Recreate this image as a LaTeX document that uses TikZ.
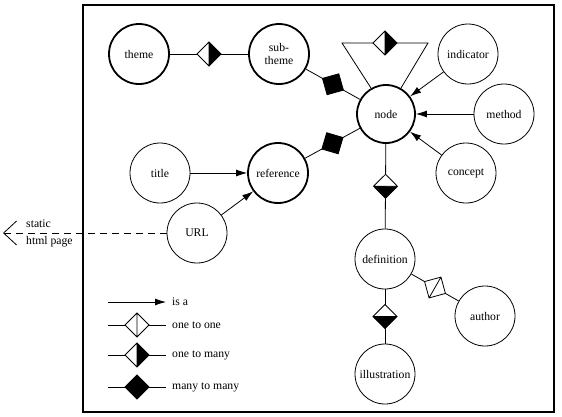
\documentclass[tikz,border=0pt]{standalone}
\usepackage{fontspec}
\setmainfont{Liberation Serif}
\usetikzlibrary{arrows.meta}

% relation diamonds, drawn along the connector
\tikzset{
  onemany/.pic={
    \fill[white] (-12,0) -- (0,12) -- (0,-12) -- cycle;
    \fill[black] (0,12) -- (12,0) -- (0,-12) -- cycle;
    \draw[line width=0.8pt] (-12,0) -- (0,12) -- (12,0) -- (0,-12) -- cycle (0,12) -- (0,-12);
  },
  oneone/.pic={
    \filldraw[fill=white,line width=0.8pt] (-12,0) -- (0,12) -- (12,0) -- (0,-12) -- cycle (0,12) -- (0,-12);
  },
  manymany/.pic={
    \filldraw[line width=0.8pt] (-12,0) -- (0,12) -- (12,0) -- (0,-12) -- cycle;
  }
}

\begin{document}
\begin{tikzpicture}[x=1pt,y=-1pt,allow upside down,
    every node/.style={font=\fontsize{11.7}{13}\selectfont},
    entity/.style={circle,draw,line width=0.8pt,minimum size=60pt,inner sep=0pt,align=center},
    core/.style={entity,line width=1.8pt},
    link/.style={line width=0.8pt},
    isa/.style={-{Latex[length=11pt,width=7pt]}}]
  \useasboundingbox (0,0) rectangle (562,416);
  \draw[line width=2.4pt] (83,5) rectangle (554,412);

  % entities
  \node[core] (theme) at (139,54) {theme};
  \node[core] (subtheme) at (279,54) {sub-\\theme};
  \node[core,minimum size=58pt] (hub) at (386,114) {node};
  \node[entity] (indicator) at (468,54) {indicator};
  \node[entity] (method) at (504,114) {method};
  \node[entity] (concept) at (466,173) {concept};
  \node[entity] (title) at (160,173) {title};
  \node[core] (reference) at (278,173) {reference};
  \node[entity] (url) at (197,233) {URL};
  \node[entity] (definition) at (385,259) {definition};
  \node[entity] (author) at (485,316) {author};
  \node[entity] (illustration) at (385,374) {illustration};

  % relations
  \draw[link] (theme) -- (subtheme);
  \path (theme) -- (subtheme) pic[pos=.5,sloped] {onemany};
  \draw[link] (subtheme) -- (hub);
  \path (subtheme) -- (hub) pic[pos=.5,sloped] {manymany};
  \draw[link] (reference) -- (hub);
  \path (reference) -- (hub) pic[pos=.5,sloped] {manymany};
  \draw[link] (hub) -- (definition);
  \path (hub) -- (definition) pic[pos=.5,sloped] {onemany};
  \draw[link] (definition) -- (illustration);
  \path (definition) -- (illustration) pic[pos=.5,sloped] {onemany};
  \draw[link] (definition) -- (author);
  \path (definition) -- (author) pic[pos=.5,sloped] {oneone};
  \coordinate (loopl) at (342,43);
  \coordinate (loopr) at (428,43);
  \draw[link] (hub.120) -- (loopl) -- (loopr) -- (hub.60);
  \path (loopl) -- (loopr) pic[pos=.5,sloped] {onemany};

  % is a
  \draw[link,isa] (indicator) -- (hub);
  \draw[link,isa] (method) -- (hub);
  \draw[link,isa] (concept) -- (hub);
  \draw[link,isa] (title) -- (reference);
  \draw[link,isa] (url) -- (reference);

  % outside link
  \coordinate (page) at (3,233);
  \draw[link,dash pattern=on 7pt off 5pt,-{Straight Barb[length=13pt,width=24pt]}] (url) -- (page);
  \node[anchor=west,align=left,inner sep=0pt,font=\fontsize{11.7}{17}\selectfont] (html) at (26,233) {static\\html page};

  % legend
  \coordinate (ka) at (108,302);
  \coordinate (kb) at (166,302);
  \draw[link,isa] (ka) -- (kb);
  \node[anchor=west,inner sep=0pt] (kt) at (172,302) {is a};
  \foreach \y/\kind/\txt in {325/oneone/one to one,355/onemany/one to many,387/manymany/many to many} {
    \coordinate (ka\y) at (108,\y);
    \coordinate (kb\y) at (166,\y);
    \draw[link] (ka\y) -- (kb\y);
    \path (ka\y) -- (kb\y) pic[pos=.5,sloped] {\kind};
    \node[anchor=west,inner sep=0pt] (kt\y) at (172,\y) {\txt};
  }
\end{tikzpicture}
\end{document}
